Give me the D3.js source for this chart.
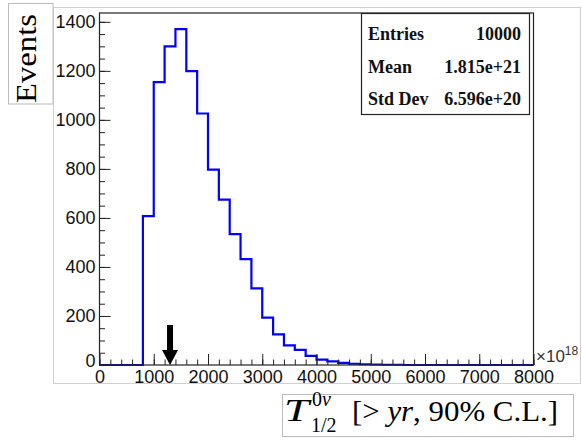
<!DOCTYPE html>
<html><head><meta charset="utf-8">
<script src="https://cdn.jsdelivr.net/npm/d3@7/dist/d3.min.js"></script>
<style>body{margin:0;background:#fff}svg{display:block}</style>
</head><body>
<svg id="c" width="582" height="440"></svg>
<script>
// ---- data ----
const binLowEdges = [0,200,400,600,800,1000,1200,1400,1600,1800,2000,2200,2400,2600,2800,3000,3200,3400,3600,3800,
  4000,4200,4400,4600,4800,5000,5200,5400,5600,5800,6000,6200,6400,6600,6800,7000,7200,7400,7600,7800];
const binWidth = 200;
const counts = [0,0,0,0,607,1154,1300,1370,1199,1026,797,675,534,432,313,193,125,80,62,37,
  22,15,9,5,3,2,1,1,0,0,0,0,0,0,0,0,0,0,0,0];
const yMajorTicks = [0,200,400,600,800,1000,1200,1400];
const yTickLabels = ["0","200","400","600","800","1000","1200","1400"];
const xMajorTicks = [0,1000,2000,3000,4000,5000,6000,7000,8000];
const xTickLabels = ["0","1000","2000","3000","4000","5000","6000","7000","8000"];
const statsLabels = ["Entries","Mean","Std Dev"];
const statsValues = ["10000","1.815e+21","6.596e+20"];
const arrowValue = [1300];
const xDomain = [0, 8000];
const yDomain = [0, 1436];

// ---- drawing ----
const svg = d3.select("#c");
const L = 99.5, R = 533.5, T = 13, B = 365;
const x = d3.scaleLinear(xDomain, [L, R]);
const y = d3.scaleLinear(yDomain, [B, T]);

// pad border
svg.append("rect").attr("x",53.5).attr("y",7.5).attr("width",527).attr("height",376)
  .attr("fill","none").attr("stroke","#d0d0d0");

// histogram step path
let pts = [];
binLowEdges.forEach((e,i)=>{
  pts.push([x(e), y(counts[i])]);
  pts.push([x(e+binWidth), y(counts[i])]);
});
svg.append("path").attr("d", d3.line()(pts)).attr("fill","none")
  .attr("stroke","#0000ff").attr("stroke-width",2.2).attr("stroke-linejoin","miter");

// frame
svg.append("rect").attr("x",L).attr("y",T).attr("width",R-L).attr("height",B-T)
  .attr("fill","none").attr("stroke","#222").attr("stroke-width",1.2);

const fontSans = "'Liberation Sans', Arial, Helvetica, sans-serif";
// y axis
const yMinor = d3.range(0, 1436, 50);
const gyMin = svg.append("g").attr("transform",`translate(${L},0)`)
  .call(d3.axisLeft(y).tickValues(yMinor).tickSize(-5.5).tickFormat(""));
const gy = svg.append("g").attr("transform",`translate(${L},0)`)
  .call(d3.axisLeft(y).tickValues(yMajorTicks).tickSize(-11).tickPadding(4)
    .tickFormat((d,i)=>yTickLabels[i]));
// x axis
const xMinor = d3.range(0, 8001, 200);
const gxMin = svg.append("g").attr("transform",`translate(0,${B})`)
  .call(d3.axisBottom(x).tickValues(xMinor).tickSize(-5.5).tickFormat(""));
const gx = svg.append("g").attr("transform",`translate(0,${B})`)
  .call(d3.axisBottom(x).tickValues(xMajorTicks).tickSize(-11).tickPadding(5)
    .tickFormat((d,i)=>xTickLabels[i]));
[gyMin,gy,gxMin,gx].forEach(g=>{
  g.select(".domain").remove();
  g.selectAll(".tick line").attr("stroke","#222").attr("stroke-width",1);
  g.selectAll("text").attr("font-family",fontSans).attr("font-size",18).attr("fill","#111");
});
// y "0" label sits slightly raised in the reference
gy.selectAll(".tick text").filter(d=>d===0).attr("dy","0.1em");

// x10^18
const mult = svg.append("text").attr("x",536).attr("y",362)
  .attr("font-family",fontSans).attr("font-size",17).attr("fill","#333");
mult.append("tspan").text("×10");
mult.append("tspan").attr("font-size",12).attr("dy",-7).text("18");

// arrow
arrowValue.forEach(v=>{
  const cx = x(v);
  const tip = y(0);
  svg.append("path")
    .attr("d",`M${cx-3},${tip-40} L${cx+3},${tip-40} L${cx+3},${tip-15} L${cx+8},${tip-15} L${cx},${tip} L${cx-8},${tip-15} L${cx-3},${tip-15} Z`)
    .attr("fill","#000");
});

// stats box
svg.append("rect").attr("x",361.5).attr("y",13.5).attr("width",168).attr("height",101)
  .attr("fill","#fff").attr("stroke","#222").attr("stroke-width",1.2);
const serif = "'Liberation Serif','Times New Roman',serif";
statsLabels.forEach((s,i)=>{
  svg.append("text").attr("x",368).attr("y",40+i*32.5).attr("font-family",serif)
    .attr("font-weight","bold").attr("font-size",18).attr("fill","#111").text(s);
  svg.append("text").attr("x",521).attr("y",40+i*32.5).attr("font-family",serif)
    .attr("text-anchor","end").attr("font-weight","bold").attr("font-size",18).attr("fill","#111").text(statsValues[i]);
});

// y title box
svg.append("rect").attr("x",8.5).attr("y",3.5).attr("width",44.5).attr("height",100.5)
  .attr("fill","#fff").attr("stroke","#bbb");
svg.append("text").attr("transform","translate(36,103) rotate(-90)")
  .attr("font-family",serif).attr("font-size",30).attr("fill","#000")
  .attr("textLength",89).attr("lengthAdjust","spacingAndGlyphs").text("Events");

// x title box
svg.append("rect").attr("x",282.5).attr("y",394.5).attr("width",291).attr("height",42)
  .attr("fill","#fff").attr("stroke","#bbb");
svg.append("text").attr("x",284).attr("y",421).attr("font-family",serif)
  .attr("font-style","italic").attr("font-size",31).attr("fill","#000")
  .attr("textLength",25).attr("lengthAdjust","spacingAndGlyphs").text("T");
svg.append("text").attr("x",312).attr("y",406).attr("font-family",serif)
  .attr("font-size",20).attr("fill","#000")
  .call(t=>{t.append("tspan").text("0");t.append("tspan").attr("font-style","italic").text("ν");});
svg.append("text").attr("x",311).attr("y",432).attr("font-family",serif)
  .attr("font-size",20).attr("fill","#000").text("1/2");
const lbl = svg.append("text").attr("x",352).attr("y",421).attr("font-family",serif)
  .attr("font-size",30).attr("fill","#000")
  .attr("textLength",206).attr("lengthAdjust","spacingAndGlyphs");
lbl.append("tspan").text("[> ");
lbl.append("tspan").attr("font-style","italic").text("yr");
lbl.append("tspan").text(", 90% C.L.]");
</script>
</body></html>
